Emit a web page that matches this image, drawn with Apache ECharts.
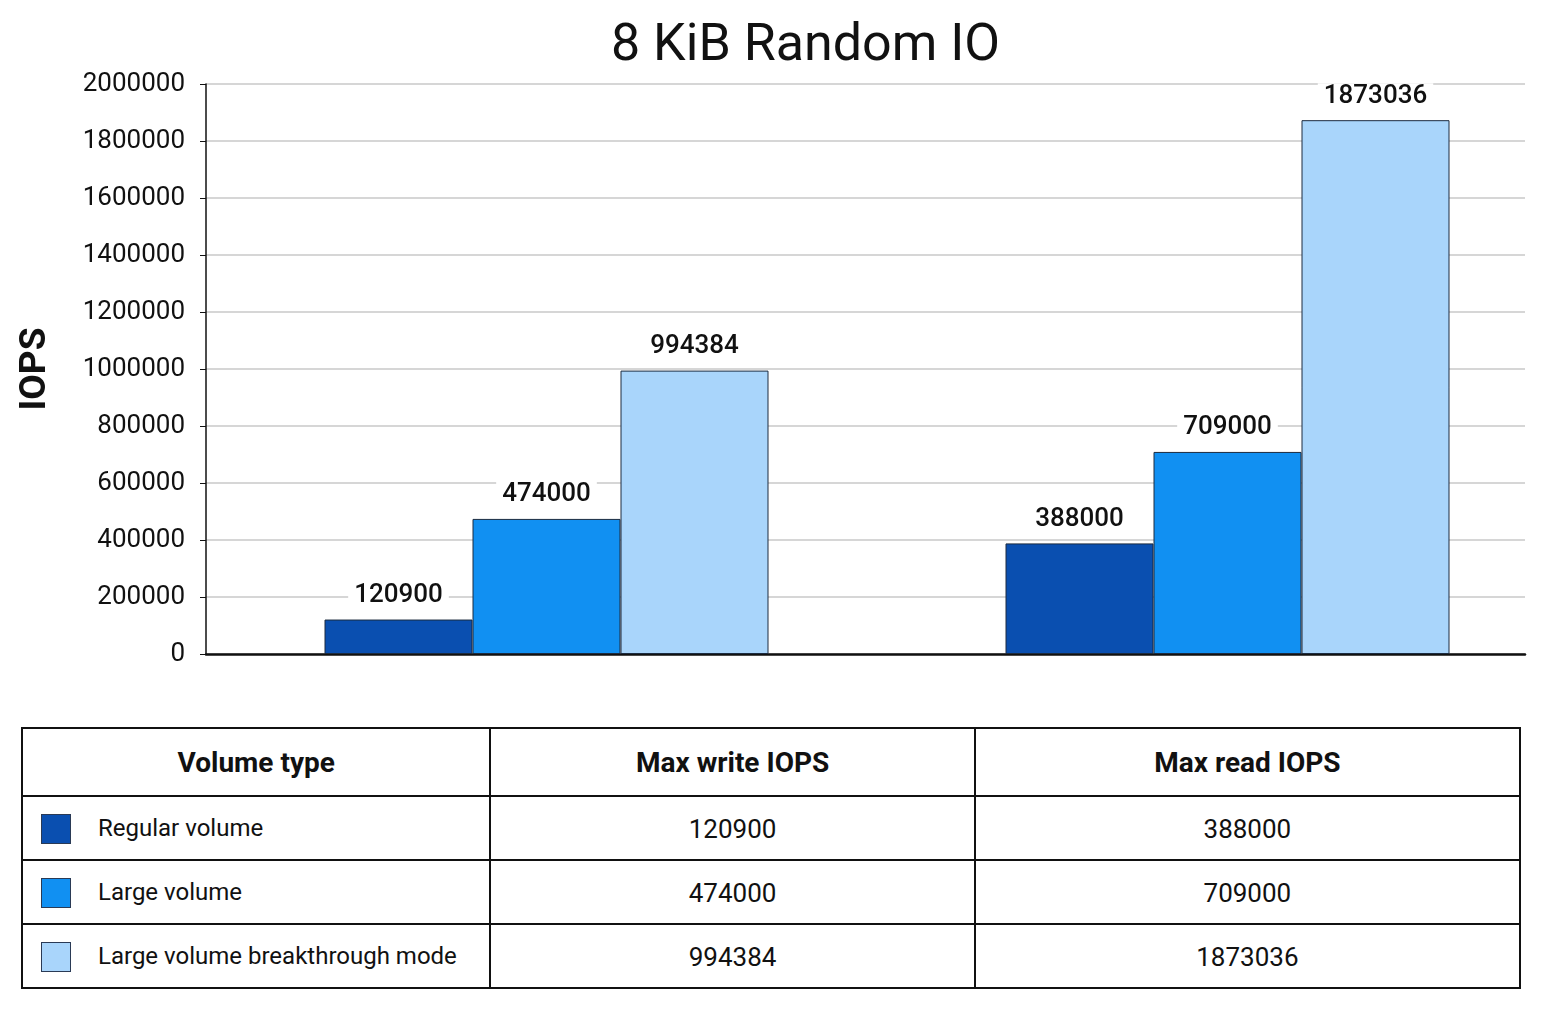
<!DOCTYPE html>
<html>
<head>
<meta charset="utf-8">
<title>8 KiB Random IO</title>
<script src="https://cdn.jsdelivr.net/npm/echarts@6/dist/echarts.min.js"></script>
<style>
  body { margin: 0; background: #fff; font-family: Roboto, "Noto Sans", sans-serif; }
  #main { position: absolute; left: 0; top: 0; width: 1548px; height: 700px; }
  #tbl { position: absolute; left: 21px; top: 727px; width: 1500px; border-collapse: collapse; color: #111; }
  #tbl td, #tbl th { border: 2px solid #111; padding: 0; }
  #tbl th { height: 66px; font-size: 28px; font-weight: bold; text-align: center; }
  #tbl td { height: 60px; font-size: 26px; text-align: center; padding-top: 2px; }
  #tbl td.name { text-align: left; font-size: 24px; }
  .sw { display: inline-block; width: 30px; height: 30px; margin: 0 27px 0 18px; vertical-align: middle; box-sizing: border-box; border: 1px solid #2a3a55; }
</style>
</head>
<body>
<div id="main"></div>
<table id="tbl"></table>
<script>
var categories = ['Max write IOPS', 'Max read IOPS'];
var seriesNames = ['Regular volume', 'Large volume', 'Large volume breakthrough mode'];
var regular = [120900, 388000];
var large = [474000, 709000];
var breakthrough = [994384, 1873036];
var colors = ['#0a4fb0', '#1190f2', '#a9d5fb'];

var chart = echarts.init(document.getElementById('main'));

function makeSeries(name, data, color) {
    return {
        name: name,
        type: 'bar',
        xAxisIndex: 1,
        yAxisIndex: 1,
        data: data,
        barWidth: 148,
        barGap: '0%',
        itemStyle: { color: color, borderColor: '#1c2b3f', borderWidth: 1 },
        label: {
            show: true,
            position: 'top',
            distance: 11,
            fontSize: 26,
            fontWeight: 500,
            color: '#111',
            backgroundColor: '#fff',
            padding: [0, 6]
        }
    };
}

var option = {
    animation: false,
    textStyle: { fontFamily: 'Roboto' },
    title: {
        text: '8 KiB Random IO',
        left: 606,
        top: 16,
        textStyle: { fontSize: 52, fontWeight: 'normal', color: '#111' }
    },
    grid: [
        { left: 206, right: 23, top: 84, height: 570 },
        // bars sit on a second, wider grid so the groups land where the original has them
        { left: 206, width: 1362, top: 84, height: 570, outerBoundsMode: 'none' }
    ],
    xAxis: [{
        type: 'category',
        gridIndex: 0,
        data: categories,
        axisLine: { lineStyle: { color: '#111', width: 2.5 } },
        axisTick: { show: false },
        axisLabel: { show: false }
    }, {
        type: 'category',
        gridIndex: 1,
        data: categories,
        show: false
    }],
    yAxis: [{
        type: 'value',
        gridIndex: 0,
        min: 0,
        max: 2000000,
        interval: 200000,
        name: 'IOPS',
        nameLocation: 'middle',
        nameGap: 152,
        nameRotate: 90,
        nameTextStyle: { fontSize: 37, fontWeight: 'bold', color: '#111' },
        axisLine: { show: true, lineStyle: { color: '#111', width: 1.5 } },
        axisTick: { show: true, length: 6, lineStyle: { color: '#111' } },
        axisLabel: { fontSize: 26, color: '#111', margin: 21, formatter: function (v) { return String(v); } },
        splitLine: { lineStyle: { color: '#c8c8c8', width: 1.5 } }
    }, {
        type: 'value',
        gridIndex: 1,
        min: 0,
        max: 2000000,
        show: false
    }],
    series: [
        makeSeries(seriesNames[0], regular, colors[0]),
        makeSeries(seriesNames[1], large, colors[1]),
        makeSeries(seriesNames[2], breakthrough, colors[2])
    ]
};
chart.setOption(option);

// data table below the chart
var rows = [regular, large, breakthrough];
var html = '<colgroup><col style="width:469px"><col style="width:485px"><col style="width:546px"></colgroup>';
html += '<tr><th>Volume type</th><th>' + categories[0] + '</th><th>' + categories[1] + '</th></tr>';
for (var i = 0; i < seriesNames.length; i++) {
    html += '<tr><td class="name"><span class="sw" style="background:' + colors[i] + '"></span>' + seriesNames[i] +
        '</td><td>' + rows[i][0] + '</td><td>' + rows[i][1] + '</td></tr>';
}
document.getElementById('tbl').innerHTML = html;
</script>
</body>
</html>
